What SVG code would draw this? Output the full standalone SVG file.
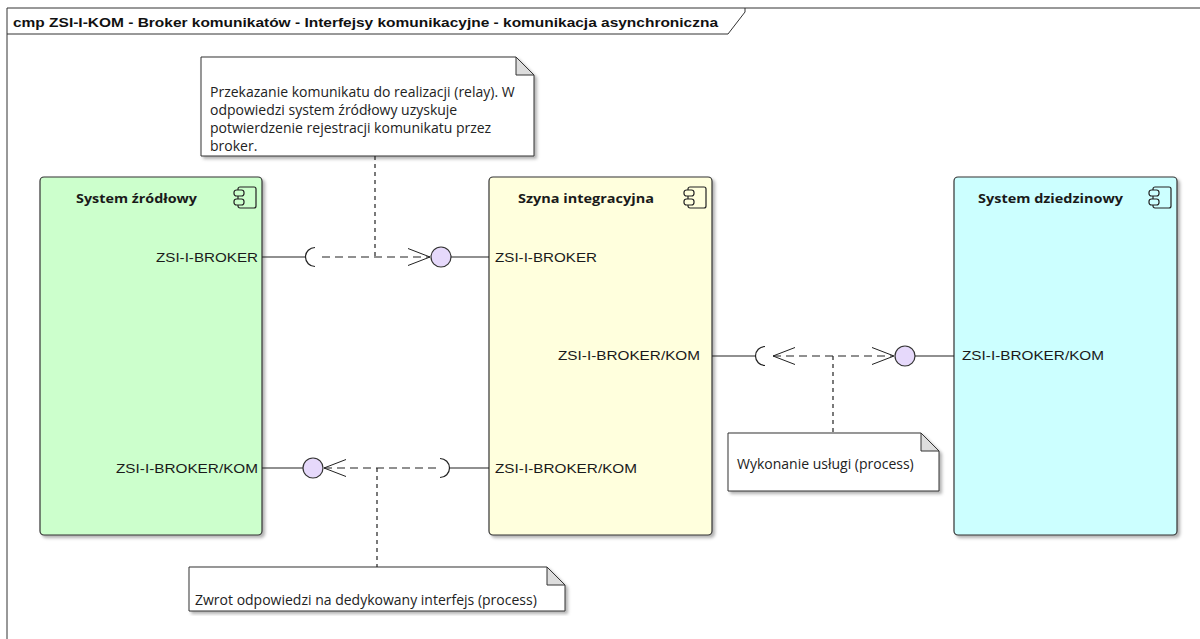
<svg xmlns="http://www.w3.org/2000/svg" width="1200" height="639" viewBox="0 0 1200 639">
<style>
.frame{fill:none;stroke:#333;stroke-width:1}
.comp{stroke:#333;stroke-width:1.2;filter:url(#sh)}
.ctitle{font-family:"Open Sans","Noto Sans",sans-serif;font-weight:bold;font-size:13px;fill:#1a1a1a}
.port{font-family:"Liberation Sans",Arial,sans-serif;font-size:13px;fill:#1a1a1a}
.note{fill:#fff;stroke:#333;stroke-width:1;filter:url(#sh)}
.fold{fill:#ddd;stroke:#333;stroke-width:1}
.ntext{font-family:"Open Sans","Noto Sans",sans-serif;font-size:14px;fill:#222}
.ico{fill:none;stroke:#222;stroke-width:1.2}
.solid{stroke:#222;stroke-width:1.2;fill:none}
.dash{stroke:#222;stroke-width:1.2;fill:none;stroke-dasharray:8 5}
.vdash{stroke:#222;stroke-width:1.2;fill:none;stroke-dasharray:4 4}
.lol{fill:#e6d9fb;stroke:#333;stroke-width:1.2}
.arr{stroke:#222;stroke-width:1;fill:none}
</style>
<defs>
<filter id="sh" x="-5%" y="-5%" width="115%" height="115%">
<feDropShadow dx="2.5" dy="2.5" stdDeviation="1.5" flood-color="#000" flood-opacity="0.3"/>
</filter>
<g id="icon">
<rect x="4" y="0" width="18" height="21" rx="2" class="ico" fill="none"/>
<rect x="0" y="3" width="10" height="6" rx="2.5" class="ico" style="fill:inherit"/>
<rect x="0" y="12" width="10" height="6" rx="2.5" class="ico" style="fill:inherit"/>
</g>
</defs>
<rect width="1200" height="639" fill="#fff"/>

<g id="frame">
<path class="frame" d="M7,639 V8 H1200"/>
<path class="frame" d="M7,34 H728 L745,12 V8"/>
<text x="13" y="27" font-family="'Liberation Sans',Arial,sans-serif" font-weight="bold" font-size="13" fill="#111" textLength="705" lengthAdjust="spacingAndGlyphs">cmp ZSI-I-KOM - Broker komunikatów - Interfejsy komunikacyjne - komunikacja asynchroniczna</text>
</g>

<g id="system-zrodlowy">
<rect class="comp" x="40" y="177" width="222" height="358" rx="4" fill="#ccffcc"/>
<text class="ctitle" x="76" y="203" textLength="121" lengthAdjust="spacingAndGlyphs">System źródłowy</text>
<use href="#icon" x="234" y="187" fill="#ccffcc"/>
<text class="port" x="258" y="262" text-anchor="end" textLength="102" lengthAdjust="spacingAndGlyphs">ZSI-I-BROKER</text>
<text class="port" x="258" y="473" text-anchor="end" textLength="142" lengthAdjust="spacingAndGlyphs">ZSI-I-BROKER/KOM</text>
</g>

<g id="szyna-integracyjna">
<rect class="comp" x="489" y="177" width="223" height="358" rx="4" fill="#ffffdd"/>
<text class="ctitle" x="518" y="203" textLength="136" lengthAdjust="spacingAndGlyphs">Szyna integracyjna</text>
<use href="#icon" x="684" y="187" fill="#ffffdd"/>
<text class="port" x="495" y="262" textLength="102" lengthAdjust="spacingAndGlyphs">ZSI-I-BROKER</text>
<text class="port" x="700" y="360" text-anchor="end" textLength="142" lengthAdjust="spacingAndGlyphs">ZSI-I-BROKER/KOM</text>
<text class="port" x="495" y="473" textLength="142" lengthAdjust="spacingAndGlyphs">ZSI-I-BROKER/KOM</text>
</g>

<g id="system-dziedzinowy">
<rect class="comp" x="954" y="177" width="223" height="358" rx="4" fill="#ccffff"/>
<text class="ctitle" x="978" y="203" textLength="145" lengthAdjust="spacingAndGlyphs">System dziedzinowy</text>
<use href="#icon" x="1149" y="187" fill="#ccffff"/>
<text class="port" x="962" y="360" textLength="142" lengthAdjust="spacingAndGlyphs">ZSI-I-BROKER/KOM</text>
</g>

<g id="note-relay">
<path class="note" d="M201,57 H516 L534,75 V156 H201 Z"/>
<path class="fold" d="M516,57 V75 H534 Z"/>
<text class="ntext" x="210" y="97">Przekazanie komunikatu do realizacji (relay). W</text>
<text class="ntext" x="210" y="115">odpowiedzi system  źródłowy uzyskuje</text>
<text class="ntext" x="210" y="133">potwierdzenie rejestracji komunikatu przez</text>
<text class="ntext" x="210" y="151">broker.</text>
</g>

<g id="note-wykonanie">
<path class="note" d="M728,433 H921 L939,451 V491 H728 Z"/>
<path class="fold" d="M921,433 V451 H939 Z"/>
<text class="ntext" x="737" y="469">Wykonanie usługi (process)</text>
</g>

<g id="note-zwrot">
<path class="note" d="M189,567 H547 L565,585 V611 H189 Z"/>
<path class="fold" d="M547,567 V585 H565 Z"/>
<text class="ntext" x="195" y="605">Zwrot odpowiedzi na dedykowany interfejs (process)</text>
</g>

<g id="connectors">
<line class="solid" x1="262" y1="257" x2="305" y2="257"/>
<path class="solid" d="M315,247.5 A9.5,9.5 0 0 0 315,266.5"/>
<line class="dash" x1="322" y1="257" x2="430" y2="257"/>
<path class="arr" d="M408,248.5 L430,257 L408,265.5"/>
<circle class="lol" cx="441" cy="257" r="10"/>
<line class="solid" x1="451" y1="257" x2="489" y2="257"/>
<line class="vdash" x1="375" y1="156" x2="375" y2="257"/>

<line class="solid" x1="712" y1="356" x2="755" y2="356"/>
<path class="solid" d="M765,346.5 A9.5,9.5 0 0 0 765,365.5"/>
<line class="dash" x1="773" y1="356" x2="893" y2="356"/>
<path class="arr" d="M795,347.5 L773,356 L795,364.5"/>
<path class="arr" d="M872,347.5 L894,356 L872,364.5"/>
<circle class="lol" cx="905" cy="356" r="10"/>
<line class="solid" x1="915" y1="356" x2="954" y2="356"/>
<line class="vdash" x1="833" y1="356" x2="833" y2="433"/>

<line class="solid" x1="262" y1="468" x2="303" y2="468"/>
<circle class="lol" cx="313" cy="468" r="10"/>
<line class="dash" x1="324" y1="468" x2="436" y2="468"/>
<path class="arr" d="M346,459.5 L324,468 L346,476.5"/>
<path class="solid" d="M440,458.5 A9.5,9.5 0 0 1 440,477.5"/>
<line class="solid" x1="449.5" y1="468" x2="489" y2="468"/>
<line class="vdash" x1="377" y1="468" x2="377" y2="567"/>
</g>
</svg>
